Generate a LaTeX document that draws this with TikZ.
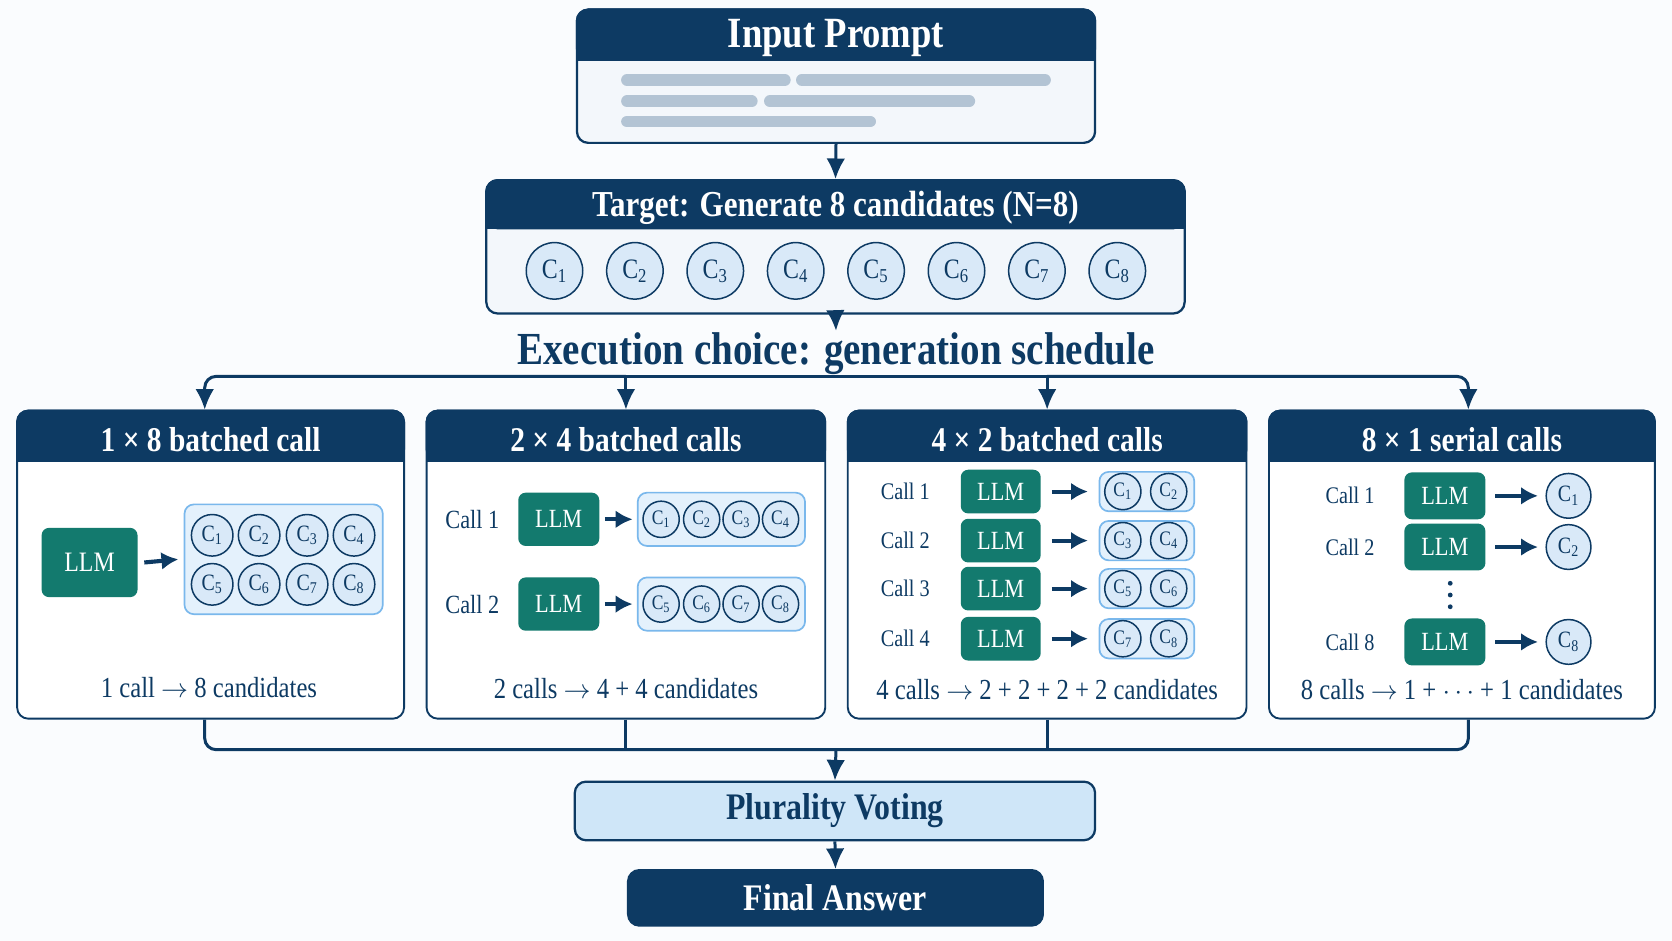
\documentclass[tikz,border=0pt]{standalone}
\usepackage{fontspec}
\setmainfont{Liberation Serif}[FakeStretch=0.85]
\usetikzlibrary{shapes,calc,arrows,arrows.meta,positioning}
\definecolor{navy}{HTML}{0D3A63}
\definecolor{llmgreen}{HTML}{137A6E}
\definecolor{barcol}{HTML}{B3C4D4}
\definecolor{grpfill}{HTML}{E4F1FC}
\definecolor{grpline}{HTML}{7AB8EC}
\definecolor{candfill}{HTML}{D9E9F8}
\definecolor{votefill}{HTML}{CFE6F8}
\definecolor{bodyfill}{HTML}{F3F7FB}
\definecolor{bgcol}{HTML}{FAFCFE}
\newcommand{\fsz}[1]{\fontsize{#1}{#1}\selectfont}
\newcommand{\ra}{$\rightarrow$}
\tikzstyle{arrow} = [draw=navy, -{Latex[length=11pt,width=10pt]}, line width=1.6pt]
\tikzstyle{link} = [draw=navy, line width=1.6pt]
\tikzstyle{box} = [draw=navy, line width=1.2pt, rounded corners=6pt, inner sep=0pt]
\tikzstyle{hdr} = [box, fill=navy, text=white, font=\bfseries]
\tikzstyle{llm} = [fill=llmgreen, rounded corners=4pt, text=white, inner sep=0pt]
\tikzstyle{grp} = [draw=grpline, fill=grpfill, rounded corners=5pt, line width=0.9pt, inner sep=0pt]
\tikzstyle{cand} = [circle, draw=navy, fill=candfill, inner sep=0pt, line width=0.8pt, text=navy]
\tikzstyle{small} = [draw=navy, -{Latex[length=9pt,width=9.5pt]}, line width=2.2pt]
\tikzstyle{lbl} = [text=navy, inner sep=1pt]

\begin{document}
\begin{tikzpicture}[x=0.02cm, y=-0.02cm]
  \fill[bgcol] (0,0) rectangle (1568,882);
  \useasboundingbox (0,0) rectangle (1568,882);
  % input prompt
  \node[box, fill=bodyfill, minimum width=9.72cm, minimum height=2.5cm] (inp) at (784,71.5) {};
  \node[hdr, minimum width=9.72cm, minimum height=0.94cm, anchor=north] (inph) at (inp.north) {};
  \fill[navy] (inph.west) rectangle (inph.south east);
  \node[text=white, font=\bfseries\fsz{23}] at ([yshift=-2pt]inph) {Input Prompt};
  \draw[barcol, line width=0.22cm, line cap=round] (588,75) -- (736,75) (752,75) -- (980,75)
    (588,95) -- (705,95) (722,95) -- (909,95) (588,114) -- (816,114);
  % target
  \node[box, fill=bodyfill, minimum width=13.1cm, minimum height=2.5cm] (tgt) at (783.5,231.5) {};
  \node[hdr, minimum width=13.1cm, minimum height=0.9cm, anchor=north] (tgth) at (tgt.north) {};
  \fill[navy] (tgth.west) rectangle (tgth.south east);
  \node[text=white, font=\bfseries\fsz{19.5}] at ([yshift=-2pt]tgth) {Target: Generate 8 candidates (N=8)};
  \foreach \i in {1,...,8}
    \node[cand, minimum size=1.06cm, font=\fsz{15}] (tc\i) at ({520+75.4*(\i-1)},254) {C\textsubscript{\i}};
  \draw[arrow] (inp.south) -- (tgt.north);
  \node[text=navy, font=\bfseries\fsz{24.5}, inner sep=1pt] (exec) at (784,332) {Execution choice: generation schedule};
  \draw[arrow] (tgt.south) -- (exec.north);

  % panels
  \foreach \n/\x/\w/\t in {1/197.5/7.26/1 × 8 batched call, 2/587/7.48/2 × 4 batched calls,
      3/982/7.48/4 × 2 batched calls, 4/1371/7.24/8 × 1 serial calls} {
    \node[box, draw=navy, fill=white, line width=1pt, minimum width=\w cm, minimum height=5.78cm] (p\n) at (\x,529.5) {};
    \node[hdr, line width=1pt, minimum width=\w cm, minimum height=0.94cm, anchor=north] (h\n) at (p\n.north) {};
    \fill[navy] (h\n.west) rectangle (h\n.south east);
    \node[text=white, font=\bfseries\fsz{18.5}] at ([yshift=-2pt]h\n) {\t};
  }

  % panel 1
  \node[llm, minimum width=1.8cm, minimum height=1.3cm, font=\fsz{15}] (l1) at (84,527.5) {LLM};
  \node[grp, minimum width=3.72cm, minimum height=2.06cm] (g1) at (266,524.5) {};
  \foreach \i/\x/\y in {1/199/502, 2/243/502, 3/288/502, 4/332/502, 5/199/548, 6/243/548, 7/288/548, 8/332/548}
    \node[cand, minimum size=0.78cm, font=\fsz{12.5}] (ac\i) at (\x,\y) {C\textsubscript{\i}};
  \draw[small] ([xshift=0.12cm]l1.east) -- ([xshift=-0.1cm]g1.west);
  \node[lbl, font=\fsz{15.5}] (s1) at (196,645) {1 call \ra{} 8 candidates};

  % panel 2
  \foreach \r/\y in {1/487, 2/566.5} {
    \node[lbl, font=\fsz{14}] (bc\r) at (443,\y) {Call \r};
    \node[llm, minimum width=1.52cm, minimum height=1.0cm, font=\fsz{14}] (bl\r) at (524,\y) {LLM};
    \node[grp, minimum width=3.14cm, minimum height=1.0cm] (bg\r) at (676.5,\y) {};
    \draw[small] ([xshift=0.1cm]bl\r.east) -- ([xshift=-0.08cm]bg\r.west);
  }
  \foreach \i/\x/\y in {1/620/487, 2/658/487, 3/695/487, 4/732/487, 5/620/566.5, 6/658/566.5, 7/695/566.5, 8/732/566.5}
    \node[cand, minimum size=0.68cm, font=\fsz{11}] (bcand\i) at (\x,\y) {C\textsubscript{\i}};
  \node[lbl, font=\fsz{15.5}] (s2) at (587,646) {2 calls \ra{} 4 + 4 candidates};

  % panel 3
  \foreach \r/\y in {1/461, 2/507, 3/552, 4/599} {
    \node[lbl, font=\fsz{12.7}] (cc\r) at (849,\y) {Call \r};
    \node[llm, minimum width=1.5cm, minimum height=0.82cm, font=\fsz{14}] (cl\r) at (938.5,\y) {LLM};
    \node[grp, minimum width=1.78cm, minimum height=0.74cm] (cg\r) at (1075.5,\y) {};
    \draw[small] ([xshift=0.2cm]cl\r.east) -- ([xshift=-0.2cm]cg\r.west);
  }
  \foreach \i/\x/\y in {1/1053/461, 2/1096/461, 3/1053/507, 4/1096/507, 5/1053/552, 6/1096/552, 7/1053/599, 8/1096/599}
    \node[cand, minimum size=0.68cm, font=\fsz{11}] (ccand\i) at (\x,\y) {C\textsubscript{\i}};
  \node[lbl, font=\fsz{15.5}] (s3) at (982,647) {4 calls \ra{} 2 + 2 + 2 + 2 candidates};

  % panel 4
  \foreach \r/\y in {1/465, 2/513, 8/602} {
    \node[lbl, font=\fsz{12.7}] (dc\r) at (1266,\y) {Call \r};
    \node[llm, minimum width=1.52cm, minimum height=0.88cm, font=\fsz{14}] (dl\r) at (1355,\y) {LLM};
    \node[cand, minimum size=0.84cm, font=\fsz{12.5}] (dcand\r) at (1471,\y) {C\textsubscript{\r}};
    \draw[small] ([xshift=0.18cm]dl\r.east) -- ([xshift=-0.14cm]dcand\r.west);
  }
  \foreach \y in {547,558,569}
    \fill[navy] (1360,\y) circle (0.045cm);
  \node[lbl, font=\fsz{15.5}] (s4) at (1371,647) {8 calls \ra{} 1 + $\cdots$ + 1 candidates};

  % fan out
  \coordinate (t1) at (192,353);
  \coordinate (t2) at (587,353);
  \coordinate (t3) at (982,353);
  \coordinate (t4) at (1377,353);
  \draw[arrow, rounded corners=6pt] (t2) -| (t1 |- p1.north);
  \draw[arrow, rounded corners=6pt] (t3) -| (t4 |- p4.north);
  \draw[link] (t2) -- (t3);
  \draw[arrow] (t2) -- (t2 |- p2.north);
  \draw[arrow] (t3) -- (t3 |- p3.north);

  % fan in
  \coordinate (u1) at (192,703);
  \coordinate (u2) at (587,703);
  \coordinate (u3) at (982,703);
  \coordinate (u4) at (1377,703);
  \coordinate (merge) at (784,703);
  \draw[link, rounded corners=6pt] (u1 |- p1.south) -- (u1) -- (u4) -- (u4 |- p4.south);
  \draw[link] (u2 |- p2.south) -- (u2);
  \draw[link] (u3 |- p3.south) -- (u3);

  % voting
  \node[box, fill=votefill, minimum width=9.76cm, minimum height=1.1cm, text=navy, font=\bfseries\fsz{20}] (vote) at (783,760.5) {Plurality Voting};
  \node[box, fill=navy, minimum width=7.78cm, minimum height=1.04cm, text=white, font=\bfseries\fsz{20}] (final) at (783.5,842) {Final Answer};
  \draw[arrow] (merge) -- (vote.north);
  \draw[arrow] (vote.south) -- (final.north);
\end{tikzpicture}
\end{document}
